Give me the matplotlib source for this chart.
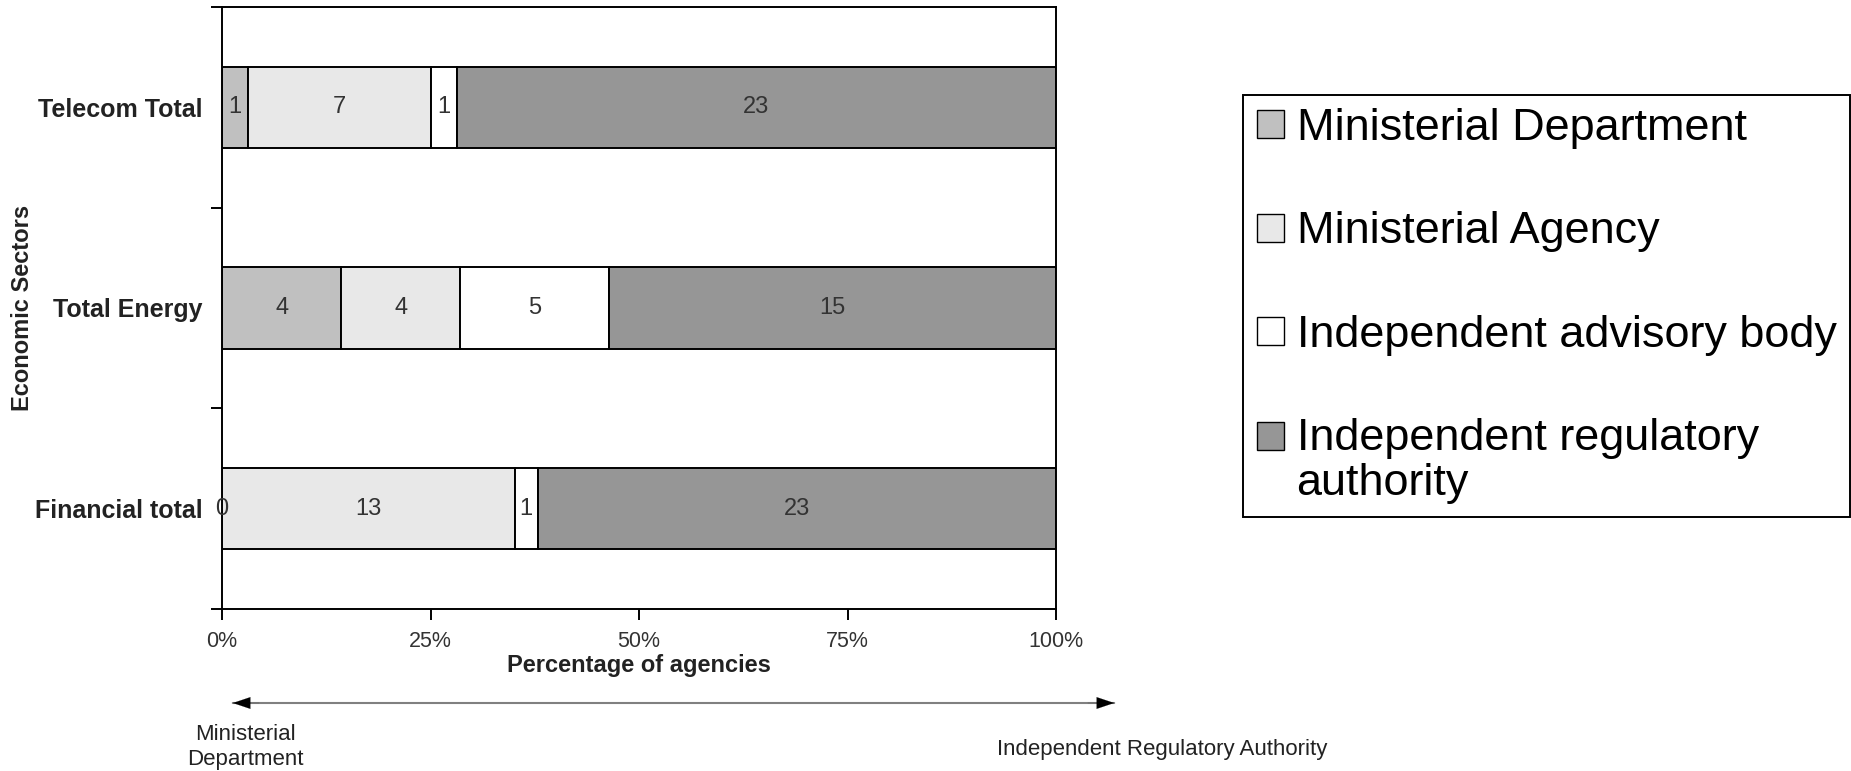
import matplotlib
matplotlib.use("Agg")
import matplotlib.pyplot as plt
import numpy as np
from matplotlib.patches import Rectangle, FancyArrowPatch
from matplotlib.legend_handler import HandlerPatch
from matplotlib.ticker import FuncFormatter

plt.rcParams['font.family'] = ['Liberation Sans', 'DejaVu Sans']

# ---- data ----
categories = ["Financial total", "Total Energy", "Telecom Total"]
series_names = ["Ministerial Department", "Ministerial Agency",
                "Independent advisory body", "Independent regulatory\nauthority"]
ministerial_department = [0, 4, 1]
ministerial_agency = [13, 4, 7]
independent_advisory = [1, 5, 1]
independent_regulatory = [23, 15, 23]
xtick_values = [0, 25, 50, 75, 100]
colors = ["#c0c0c0", "#e8e8e8", "#ffffff", "#969696"]

counts = np.array([ministerial_department, ministerial_agency,
                   independent_advisory, independent_regulatory], dtype=float)
totals = counts.sum(axis=0)
pct = counts / totals * 100

W, H = 1851, 771
fig = plt.figure(figsize=(W / 100, H / 100), dpi=100)
ax = fig.add_axes([222 / W, 1 - 609 / H, (1056 - 222) / W, (609 - 7) / H])

y = np.arange(len(categories))
left = np.zeros(len(categories))
handles = []
for i in range(counts.shape[0]):
    bars = ax.barh(y, pct[i], left=left, height=0.405, color=colors[i],
                   edgecolor="black", linewidth=1.4, label=series_names[i])
    handles.append(bars[0])
    for j in range(len(categories)):
        ax.text(left[j] + pct[i][j] / 2, y[j], f"{int(counts[i][j])}",
                ha="center", va="center", fontsize=17, color="#333333")
    left += pct[i]

ax.set_xlim(0, 100)
ax.set_ylim(-0.5, 2.5)
ax.set_xticks(xtick_values)
ax.xaxis.set_major_formatter(FuncFormatter(lambda v, p: f"{int(v)}%"))
ax.set_yticks([-0.5, 0.5, 1.5, 2.5])
ax.set_yticklabels([])
ax.set_yticks(y, minor=True)
ax.set_yticklabels(categories, minor=True, fontsize=18, fontweight="bold", color="#222222")
ax.tick_params(axis="y", which="minor", length=0, pad=14)
ax.tick_params(axis="both", which="major", length=8, width=1.4, direction="out")
ax.tick_params(axis="x", labelsize=15.5, pad=8, labelcolor="#333333")
for s in ax.spines.values():
    s.set_linewidth(1.4)

ax.set_xlabel("Percentage of agencies", fontsize=17, fontweight="bold", color="#222222")
ax.xaxis.set_label_coords(0.5, -0.075)
ax.set_ylabel("Economic Sectors", fontsize=17, fontweight="bold", color="#222222")
ax.yaxis.set_label_coords(-0.226, 0.5)

# legend
fs = 32.4
class ShiftHandler(HandlerPatch):
    def __init__(self, shift=0.0, **kw):
        super().__init__(**kw)
        self.shift = shift
    def create_artists(self, legend, orig_handle, xdescent, ydescent, width, height, fontsize, trans):
        p = Rectangle((-xdescent, -ydescent + self.shift), width, height)
        self.update_prop(p, orig_handle, legend)
        p.set_facecolor(orig_handle.get_facecolor())
        p.set_edgecolor("black")
        p.set_linewidth(1.0)
        p.set_transform(trans)
        return [p]

hmap = {handles[k]: ShiftHandler(0.0) for k in range(3)}
hmap[handles[3]] = ShiftHandler(18.0)
leg = fig.legend(handles, series_names, loc="lower left",
                 bbox_to_anchor=(1243 / W, 1 - 517 / H), bbox_transform=fig.transFigure,
                 fontsize=fs, frameon=True, fancybox=False, edgecolor="black",
                 handlelength=0.62, handleheight=0.58, handletextpad=0.27,
                 borderpad=0.3, labelspacing=1.38, borderaxespad=0, handler_map=hmap)
for t in leg.get_texts():
    t.set_linespacing(1.12)
leg.get_frame().set_linewidth(1.4)
leg.get_frame().set_alpha(1)

# arrow under the axis
y_arr = 1 - 703 / H
line = FancyArrowPatch((230 / W, y_arr), (1117 / W, y_arr), transform=fig.transFigure,
                       arrowstyle="-", color="#808080", linewidth=1.5)
fig.add_artist(line)
for x0, x1 in [(262, 230), (1085, 1117)]:
    head = FancyArrowPatch((x0 / W, y_arr), (x1 / W, y_arr), transform=fig.transFigure,
                           arrowstyle="-|>,head_length=1.25,head_width=0.42",
                           mutation_scale=10, color="black", linewidth=0.1)
    fig.add_artist(head)

fig.text(245 / W, 1 - 747 / H, "Ministerial\nDepartment", ha="center", va="center",
         fontsize=16, color="#222222", linespacing=1.3)
fig.text(997 / W, 1 - 749 / H, "Independent Regulatory Authority", ha="left", va="center",
         fontsize=16, color="#222222")

fig.savefig("out.png", dpi=100)
